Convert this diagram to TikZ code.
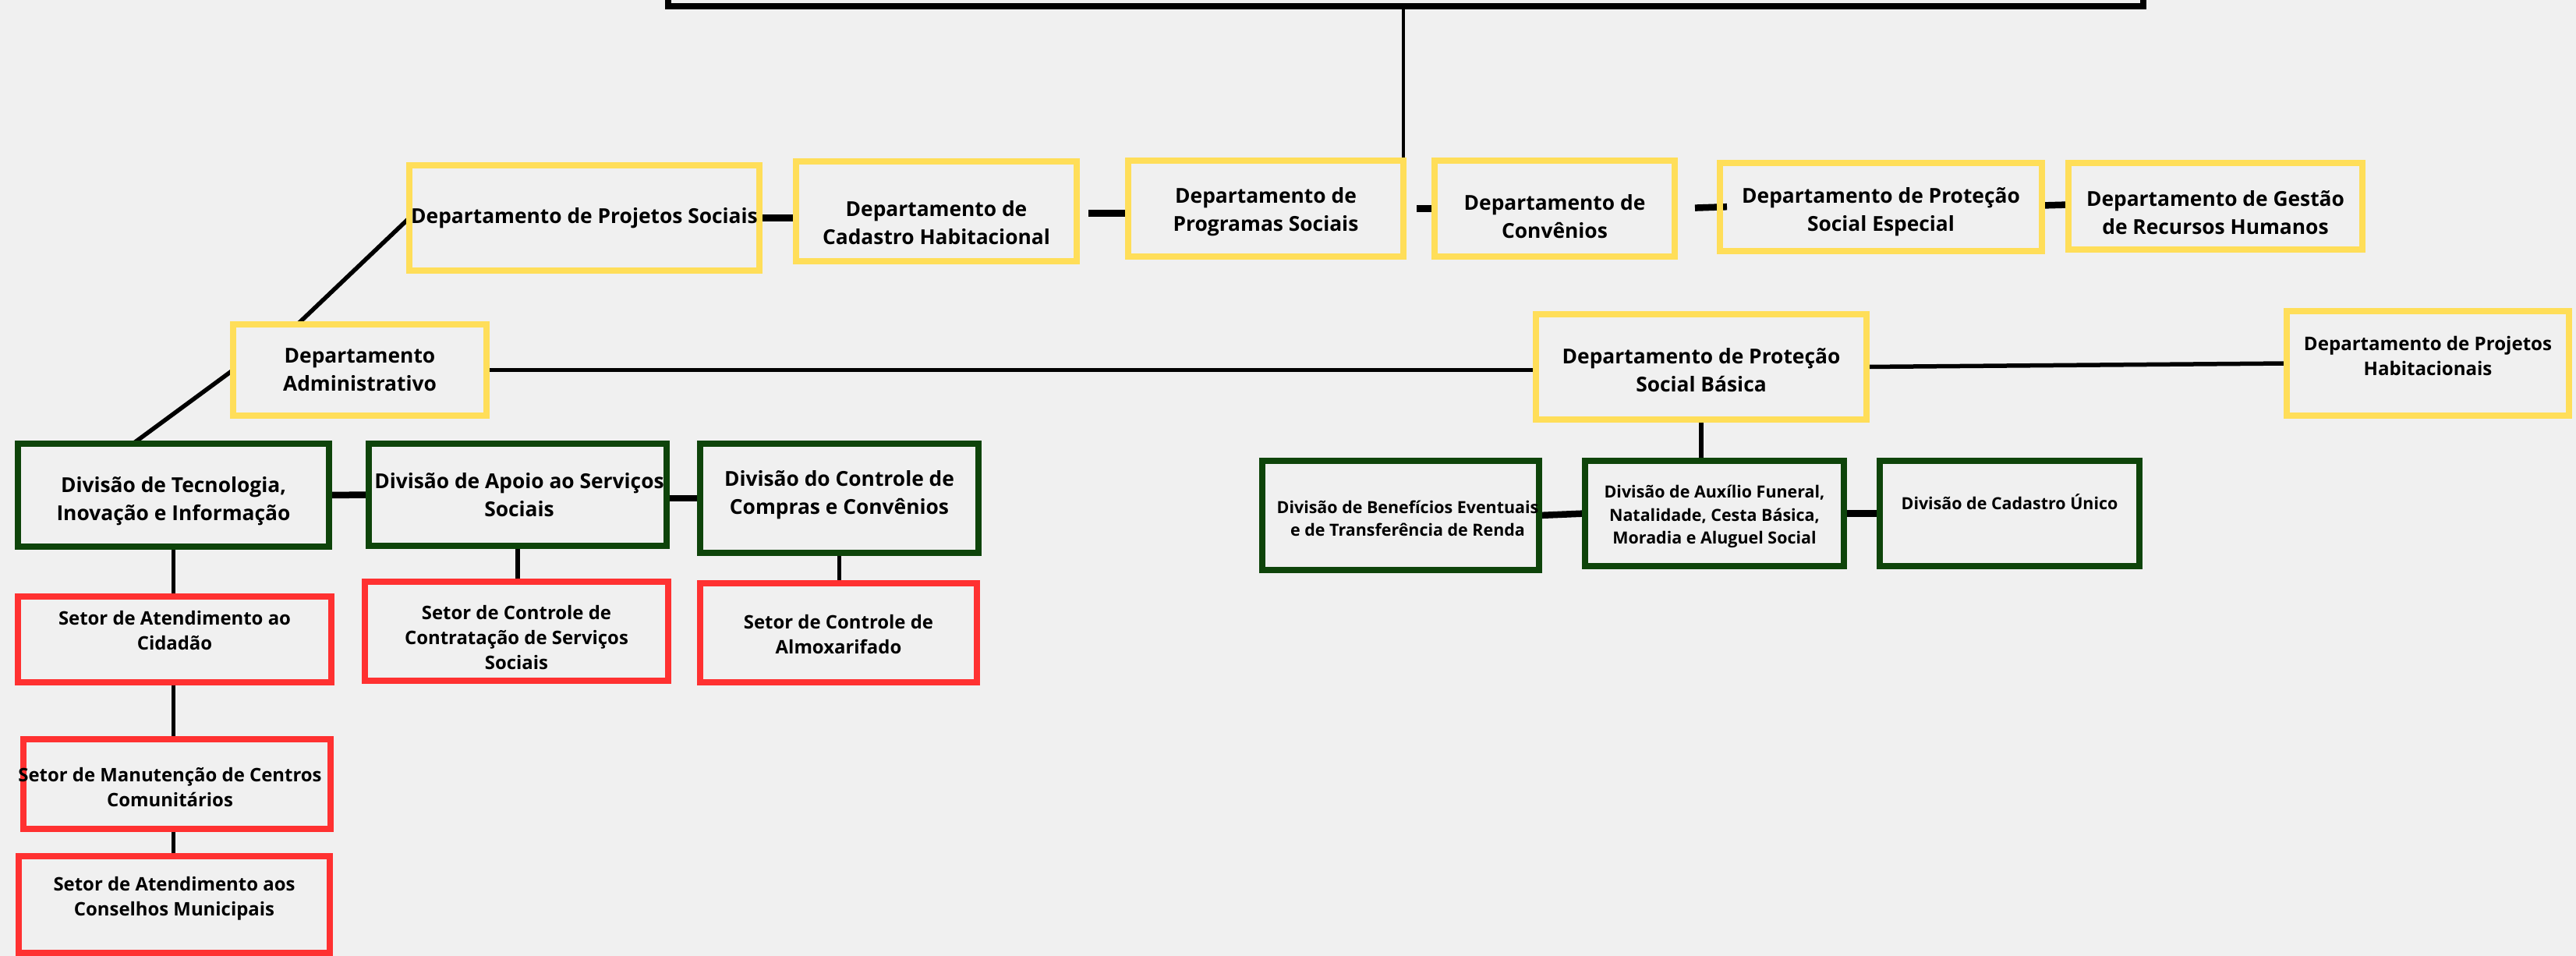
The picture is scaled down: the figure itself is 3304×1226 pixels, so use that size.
\documentclass[tikz,border=0pt]{standalone}
\usepackage{fontspec}
\setmainfont{Open Sans}
\pgfdeclarelayer{bg}
\pgfsetlayers{bg,main}
\definecolor{bgc}{HTML}{F0F0F0}
\definecolor{yel}{HTML}{FFDE59}
\definecolor{grn}{HTML}{0E440A}
\definecolor{rd}{HTML}{FF3131}
\newcommand\fA{\fontsize{7.5pt}{10.2pt}\selectfont\bfseries}
\newcommand\fB{\fontsize{6.8pt}{9.1pt}\selectfont\bfseries}
\newcommand\fC{\fontsize{6.1pt}{8.4pt}\selectfont\bfseries}
\newcommand\fD{\fontsize{6.85pt}{9.1pt}\selectfont\bfseries}
\newcommand\orgbox[8]{%
  \node[#2, minimum width={(#5-#3-8)*0.1mm}, minimum height={(#6-#4-8)*0.1mm}] (#1) at ({(#3+#5)/2},{(#4+#6)/2}) {};
  \node[txt,#7] (#1t) at (#1.center) {#8};}
\begin{document}
\begin{tikzpicture}[x=0.1mm,y=-0.1mm,
  basebox/.style={draw, rectangle, line width=0.8mm, inner sep=0pt, outer sep=0pt},
  dept/.style={basebox, draw=yel},
  divi/.style={basebox, draw=grn},
  setr/.style={basebox, draw=rd},
  topbox/.style={basebox, draw=black},
  txt/.style={inner sep=0pt, align=center, text=black},
  conn/.style={draw=black, line width=0.55mm},
  tconn/.style={draw=black, line width=0.85mm},
  vconn/.style={draw=black, line width=0.45mm}]
\useasboundingbox (0,0) rectangle (3304,1226);
\clip (0,0) rectangle (3304,1226);
\begin{pgfonlayer}{bg}
\fill[bgc] (0,0) rectangle (3304,1226);
\end{pgfonlayer}

\node[topbox, minimum width={(2753-853-8)*0.1mm}, minimum height={(212-8)*0.1mm}] (top) at (1803,-94) {};

% departments
\orgbox{ps}{dept}{521}{208}{978}{351}{font=\fA}{Departamento de Projetos Sociais}
\orgbox{ch}{dept}{1017}{203}{1385}{339}{font=\fA,yshift=-1.5mm}{Departamento de\\Cadastro Habitacional}
\orgbox{pg}{dept}{1443}{202}{1804}{333}{font=\fA,yshift=-0.4mm}{Departamento de\\Programas Sociais}
\orgbox{cv}{dept}{1836}{202}{2152}{333}{font=\fA,yshift=-1.0mm}{Departamento de\\Convênios}
\orgbox{pse}{dept}{2202}{205}{2623}{326}{font=\fA,yshift=-0.6mm}{Departamento de Proteção\\Social Especial}
\orgbox{rh}{dept}{2649}{205}{3034}{324}{font=\fA,yshift=-0.8mm}{Departamento de Gestão\\de Recursos Humanos}
\orgbox{adm}{dept}{295}{412}{628}{537}{font=\fA}{Departamento\\Administrativo}
\orgbox{psb}{dept}{1966}{399}{2398}{542}{font=\fA,yshift=-0.4mm}{Departamento de Proteção\\Social Básica}
\orgbox{ph}{dept}{2929}{395}{3299}{537}{font=\fD,yshift=1.0mm}{Departamento de Projetos\\Habitacionais}

% left divisions
\orgbox{ti}{divi}{19}{565}{426}{705}{font=\fA,yshift=-0.8mm}{Divisão de Tecnologia,\\Inovação e Informação}
\orgbox{ap}{divi}{469}{565}{859}{704}{font=\fA,xshift=0.2mm}{Divisão de Apoio ao Serviços\\Sociais}
\orgbox{cc}{divi}{894}{565}{1259}{713}{font=\fA,yshift=0.4mm}{Divisão do Controle de\\Compras e Convênios}

% left sectors
\orgbox{sa}{setr}{19}{761}{429}{879}{font=\fB,yshift=1.1mm}{Setor de Atendimento ao\\Cidadão}
\orgbox{sc}{setr}{464}{742}{861}{877}{font=\fB,yshift=-0.8mm}{Setor de Controle de\\Contratação de Serviços\\Sociais}
\orgbox{sal}{setr}{894}{744}{1257}{879}{font=\fB,yshift=-0.2mm}{Setor de Controle de\\Almoxarifado}
\orgbox{sm}{setr}{26}{944}{428}{1067}{font=\fB,yshift=-0.4mm,xshift=-0.9mm}{Setor de Manutenção de Centros\\Comunitários}
\orgbox{scm}{setr}{20}{1094}{427}{1226}{font=\fB,yshift=0.8mm}{Setor de Atendimento aos\\Conselhos Municipais}

% right divisions
\orgbox{be}{divi}{1615}{587}{1978}{735}{font=\fC,yshift=-0.4mm,xshift=0.9mm}{Divisão de Benefícios Eventuais\\e de Transferência de Renda}
\orgbox{ax}{divi}{2029}{587}{2369}{730}{font=\fC,yshift=-0.4mm}{Divisão de Auxílio Funeral,\\Natalidade, Cesta Básica,\\Moradia e Aluguel Social}
\orgbox{cu}{divi}{2407}{587}{2748}{730}{font=\fC,yshift=1.5mm}{Divisão de Cadastro Único}

\begin{pgfonlayer}{bg}
  \draw[vconn] (top.south -| pg.east) -- (pg.east);
  \draw[tconn, shorten <=1.7mm] (pg.east) -- (cv.west);
  \draw[tconn] (ps.east) -- (ps.east -| ch.west);
  \draw[tconn, shorten <=1.5mm] ([yshift=-0.25mm]ch.east) -- ([yshift=-0.6mm]pg.west);
  \draw[tconn, shorten <=2.6mm, shorten >=-0.9mm] (cv.east) -- (pse.west);
  \draw[tconn] ([yshift=0.2mm]pse.east) -- ([yshift=0.2mm]rh.west);
  \draw[conn] (ps.west) -- ([xshift=-8mm]adm.north);
  \draw[conn] (adm.west) -- ([xshift=-5.2mm]ti.north);
  \draw[conn] (adm.east) -- (adm.east -| psb.west);
  \draw[conn] (psb.east) -- (ph.west);
  \draw[conn] (psb.south) -- (psb.south |- ax.north);
  \draw[tconn] (be.east) -- (ax.west);
  \draw[tconn] (ax.east) -- (cu.west);
  \draw[tconn] (ti.east) -- (ap.west);
  \draw[tconn] (cc.west -| ap.east) -- (cc.west);
  \draw[conn] (ti.south) -- (ti.south |- sa.north);
  \draw[conn] (ap.south) -- (ap.south |- sc.north);
  \draw[conn] (cc.south) -- (cc.south |- sal.north);
  \draw[conn] (sa.south -| ti.south) -- (ti.south |- sm.north);
  \draw[conn] (sm.south -| ti.south) -- (ti.south |- scm.north);
\end{pgfonlayer}
\end{tikzpicture}
\end{document}
